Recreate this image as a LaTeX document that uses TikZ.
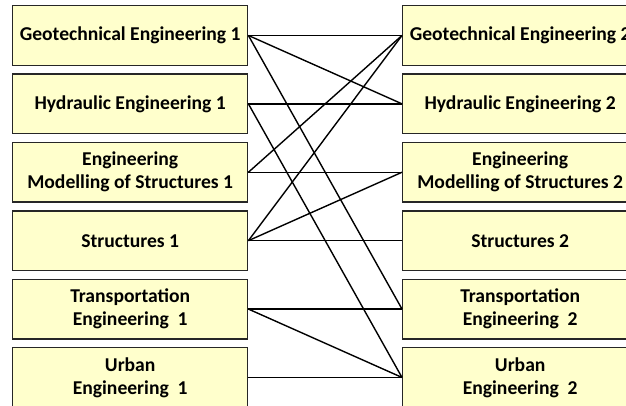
\documentclass[tikz,border=0pt]{standalone}
\usepackage{fontspec}
\setmainfont{Carlito}
\begin{document}
\begin{tikzpicture}[x=1pt,y=1pt,
  box/.style={draw=black!85,line width=1.4pt,fill=boxfill,rectangle,
    minimum width=235pt,minimum height=59.5pt,inner sep=0pt,
    align=center,font=\fontsize{19.6}{23}\selectfont\bfseries,anchor=north west},
  link/.style={draw=black,line width=1.4pt}]
\definecolor{boxfill}{RGB}{255,255,204}
\useasboundingbox (0,0) rectangle (626,-405);
\clip (0,0) rectangle (626,-405);
\fill[white] (0,0) rectangle (626,-405);
% left column
\node[box] (L1) at (12,-5) {Geotechnical Engineering 1};
\node[box] (L2) at (12,-73.4) {Hydraulic Engineering 1};
\node[box] (L3) at (12,-141.8) {Engineering\\ Modelling of Structures 1};
\node[box] (L4) at (12,-210.2) {Structures 1};
\node[box] (L5) at (12,-278.6) {Transportation\\Engineering~ 1};
\node[box] (L6) at (12,-347) {Urban\\Engineering~ 1};
% right column
\node[box] (R1) at (402,-5) {Geotechnical Engineering 2};
\node[box] (R2) at (402,-73.4) {Hydraulic Engineering 2};
\node[box] (R3) at (402,-141.8) {Engineering\\ Modelling of Structures 2};
\node[box] (R4) at (402,-210.2) {Structures 2};
\node[box] (R5) at (402,-278.6) {Transportation\\Engineering~ 2};
\node[box] (R6) at (402,-347) {Urban\\Engineering~ 2};
% connectors
\draw[link] (L1.east) -- (R1.west);
\draw[link] (L1.east) -- (R2.west);
\draw[link] (L1.east) -- (R5.west);
\draw[link] (L2.east) -- (R2.west);
\draw[link] (L2.east) -- (R6.west);
\draw[link] (L3.east) -- (R3.west);
\draw[link] (L3.east) -- (R1.west);
\draw[link] (L4.east) -- (R4.west);
\draw[link] (L4.east) -- (R1.west);
\draw[link] (L4.east) -- (R3.west);
\draw[link] (L5.east) -- (R5.west);
\draw[link] (L5.east) -- (R6.west);
\draw[link] (L6.east) -- (R6.west);
\end{tikzpicture}
\end{document}
